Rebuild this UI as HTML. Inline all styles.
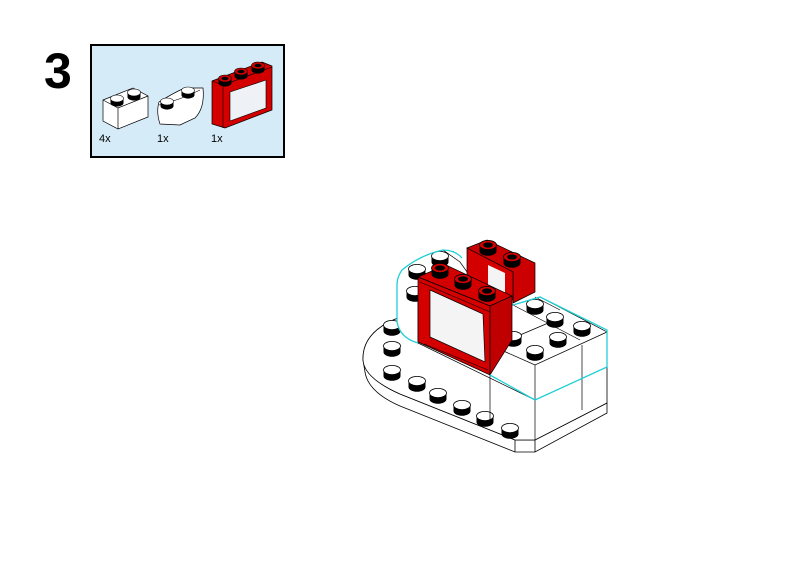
<!DOCTYPE html>
<html><head><style>
html,body{margin:0;padding:0;background:#fff;width:800px;height:566px;overflow:hidden}
svg{display:block}
</style></head><body>
<svg width="800" height="566" viewBox="0 0 800 566" xmlns="http://www.w3.org/2000/svg" font-family="Liberation Sans, sans-serif">
<defs>
<g id="ws"><ellipse cx="0" cy="4" rx="8.5" ry="4.8" fill="#000"/><rect x="-8.5" y="-2" width="17" height="6" fill="#000"/><ellipse cx="0" cy="-2" rx="8.5" ry="4.6" fill="#fff" stroke="#000" stroke-width="0.8"/></g>
<g id="rs"><ellipse cx="0" cy="4" rx="8.5" ry="4.8" fill="#000"/><rect x="-8.5" y="-2" width="17" height="6" fill="#000"/><ellipse cx="0" cy="-2" rx="8.5" ry="4.6" fill="#d40000" stroke="#000" stroke-width="0.8"/><ellipse cx="0" cy="-2" rx="5" ry="2.6" fill="#000"/></g>
<g id="ss"><ellipse cx="0" cy="3" rx="6.5" ry="3.6" fill="#000"/><rect x="-6.5" y="-1.5" width="13" height="4.5" fill="#000"/><ellipse cx="0" cy="-1.5" rx="6.5" ry="3.5" fill="#fff" stroke="#000" stroke-width="0.6"/></g>
<g id="srs"><ellipse cx="0" cy="3" rx="6.5" ry="3.6" fill="#000"/><rect x="-6.5" y="-1.5" width="13" height="4.5" fill="#000"/><ellipse cx="0" cy="-1.5" rx="6.5" ry="3.5" fill="#d40000" stroke="#000" stroke-width="0.6"/><ellipse cx="0" cy="-1.5" rx="3.5" ry="1.8" fill="#000"/></g>
</defs>
<text x="44" y="88" font-size="50" font-weight="bold" fill="#000">3</text>
<rect x="91" y="45" width="193" height="112" fill="#d6ebf8" stroke="#000" stroke-width="2"/>
<!-- white brick -->
<path d="M103,100 L133,88 L148,96 L148,117 L118,129 L103,121 Z" fill="#fff" stroke="#000" stroke-width="0.7"/>
<path d="M103,100 L118,108 L148,96 M118,108 L118,129" fill="none" stroke="#000" stroke-width="0.7"/>
<use href="#ss" x="117" y="100"/><use href="#ss" x="134" y="94"/>
<!-- curved -->
<path d="M159,102 Q175,92 185,88 L203,88 Q205,108 195,118 L180,125 L160,124 Q156,112 159,102 Z" fill="#fff" stroke="#000" stroke-width="0.7"/>
<path d="M159,105 Q180,100 200,90" fill="none" stroke="#000" stroke-width="0.6"/>
<use href="#ss" x="167" y="103"/><use href="#ss" x="188" y="92"/>
<!-- red window -->
<path d="M212,81 L262,62 L272,66 L272,110 L225,128 L212,124 Z" fill="#d40000" stroke="#000" stroke-width="0.7"/>
<path d="M212,81 L223,85 L272,67 M223,85 L223,128" fill="none" stroke="#000" stroke-width="0.6"/>
<path d="M230,92 L266,80 L266,108 L230,121 Z" fill="#eef2f6" stroke="#000" stroke-width="0.6"/>
<use href="#srs" x="225" y="80"/><use href="#srs" x="241" y="73"/><use href="#srs" x="258" y="67"/>
<text x="99" y="142" font-size="11" fill="#000">4x</text>
<text x="157" y="142" font-size="11" fill="#000">1x</text>
<text x="211" y="142" font-size="11" fill="#000">1x</text>

<!-- base plate -->
<path d="M398,318 Q362,332 363,360 L365,372 Q368,392 400,406 L515,452 L535,452 L607,413 L607,403 L535,440 L515,440 L400,394 Q368,380 366,362 Q364,335 398,318 Z" fill="#fff" stroke="#000" stroke-width="0.8"/>
<path d="M398,318 Q362,332 363,360 Q364,378 400,394 L515,440 L535,440 L607,403 L607,360 L420,300 Z" fill="#fff" stroke="#000" stroke-width="0.8"/>
<path d="M515,440 L515,452 M535,440 L535,452" stroke="#000" stroke-width="0.8"/>
<use href="#ws" x="392" y="327"/><use href="#ws" x="392" y="348"/><use href="#ws" x="392" y="372"/>
<use href="#ws" x="417" y="383"/><use href="#ws" x="438" y="395"/><use href="#ws" x="462" y="407"/>
<use href="#ws" x="485" y="418"/><use href="#ws" x="510" y="430"/>
<!-- wall body -->
<path d="M443,250 Q420,255 402,270 Q397,277 397,285 L397,322 Q400,338 418,343 L535,400 L607,367 L607,332 L540,297 L513,305 L487,300 L460,262 Z" fill="#fff" stroke="#000" stroke-width="0.7"/>
<path d="M418,290 L418,343 M535,365 L535,440 M490,345 L490,425 M582,345 L582,410" stroke="#000" stroke-width="0.7" fill="none"/>
<path d="M490,345 L535,365 L607,332 M513,338 L560,318 M535,297 L560,310 M513,305 L580,340" stroke="#000" stroke-width="0.7" fill="none"/>
<!-- back red window -->
<path d="M467,248 L487,240 L535,263 L535,292 L513,303 L513,272 Z" fill="#cc0000" stroke="#000" stroke-width="0.7"/>
<path d="M467,248 L467,275 L513,300 L513,272 Z" fill="#d40000" stroke="#000" stroke-width="0.7"/>
<path d="M488,265 L505,273 L505,296 L488,288 Z" fill="#f4f4f4"/>
<use href="#rs" x="488" y="247"/><use href="#rs" x="512" y="259"/>
<!-- white studs on wall -->
<use href="#ws" x="417" y="271"/><use href="#ws" x="440" y="258"/><use href="#ws" x="415" y="293"/>
<use href="#ws" x="535" y="306"/><use href="#ws" x="555" y="319"/><use href="#ws" x="582" y="328"/>
<use href="#ws" x="513" y="338"/><use href="#ws" x="535" y="352"/><use href="#ws" x="558" y="339"/>
<!-- front red window -->
<path d="M418,277 L446,265 L512,296 L490,306 Z" fill="#d40000" stroke="#000" stroke-width="0.7"/>
<path d="M418,277 L490,306 L490,375 L418,342 Z" fill="#d40000" stroke="#000" stroke-width="0.7"/>
<path d="M490,306 L512,296 L512,340 L490,375 Z" fill="#c00000" stroke="#000" stroke-width="0.7"/>
<path d="M430,290 L483,314 L485,362 L430,337 Z" fill="#f4f4f4" stroke="#000" stroke-width="0.7"/>
<path d="M420,282 L490,312 M424,344 L488,370" stroke="#000" stroke-width="0.6"/>
<use href="#rs" x="440" y="270"/><use href="#rs" x="463" y="281"/><use href="#rs" x="487" y="293"/>
<!-- cyan outline -->
<path d="M443,250 Q420,255 402,270 Q397,277 397,285 L397,322 Q400,338 418,343 M490,375 L535,400 L607,367 L607,330 L540,297 L513,305" fill="none" stroke="#20d0d8" stroke-width="1.3"/>
<path d="M443,250 Q455,250 462,258" fill="none" stroke="#20d0d8" stroke-width="1.3"/>
</svg>
</body></html>
